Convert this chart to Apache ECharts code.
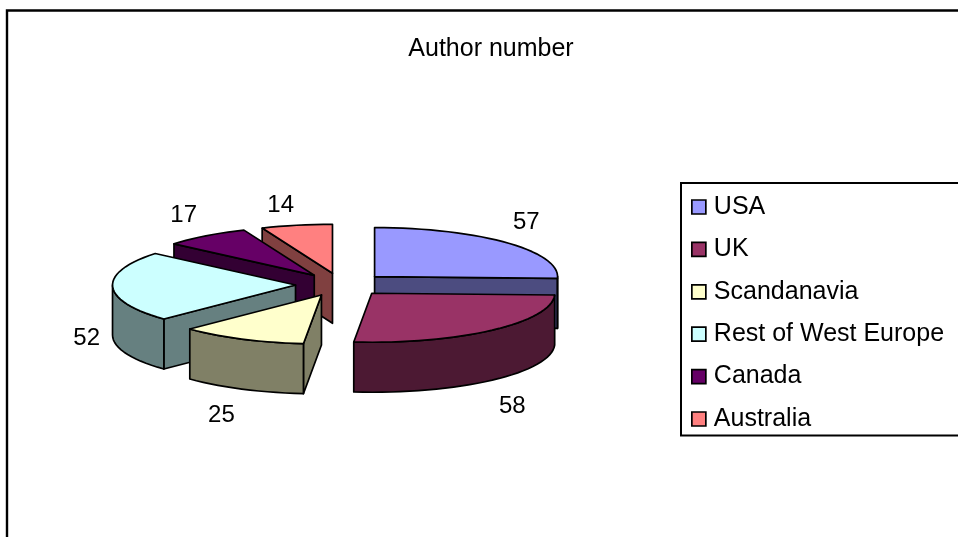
<!DOCTYPE html>
<html>
<head>
<meta charset="utf-8">
<style>html,body{margin:0;padding:0;background:#fff;overflow:hidden}#c{width:958px;height:537px}</style>
<script src="https://cdn.jsdelivr.net/npm/echarts@6/dist/echarts.min.js"></script>
</head>
<body>
<div id="c"></div>
<script>
var titleText = 'Author number';
var categories = ['USA', 'UK', 'Scandanavia', 'Rest of West Europe', 'Canada', 'Australia'];
var values = [57, 58, 25, 52, 17, 14];
var topColors = ['#9999FF', '#993366', '#FFFFCC', '#CCFFFF', '#660066', '#FF8080'];
var wallColors = ['#4C4C80', '#4C1933', '#808066', '#668080', '#330033', '#804040'];

var FONT = '"Liberation Sans", Arial, sans-serif';
var CX = 341.5, CY = 284.6, RX = 183, RY = 49, DEPTH = 50, EX = 46, EY = 11.5;
var total = values.reduce(function (a, b) { return a + b; }, 0);
var rad = Math.PI / 180;

var slices = [];
var acc = 0;
values.forEach(function (v) {
  var a0 = acc / total * 360;
  acc += v;
  var a1 = acc / total * 360;
  var mid = (a0 + a1) / 2;
  slices.push({
    a0: a0, a1: a1, mid: mid,
    ax: CX + EX * Math.sin(mid * rad),
    ay: CY - EY * Math.cos(mid * rad)
  });
});

function rim(s, a, d) {
  return [s.ax + RX * Math.sin(a * rad), s.ay - RY * Math.cos(a * rad) + (d || 0)];
}
function arc(s, from, to, d) {
  var pts = [], n = Math.max(2, Math.ceil((to - from) / 3));
  for (var i = 0; i <= n; i++) pts.push(rim(s, from + (to - from) * i / n, d));
  return pts;
}
function poly(points, fill) {
  return {
    type: 'polygon',
    shape: { points: points },
    style: { fill: fill, stroke: '#000', lineWidth: 1.7, lineJoin: 'round' }
  };
}

function makeRender(idx) {
  return function () {
    var s = slices[idx], kids = [], wall = wallColors[idx];
    var apex = [s.ax, s.ay], apexB = [s.ax, s.ay + DEPTH];
    if (Math.sin(s.a0 * rad) < 0) {
      kids.push(poly([apex, rim(s, s.a0), rim(s, s.a0, DEPTH), apexB], wall));
    }
    if (Math.sin(s.a1 * rad) > 0) {
      kids.push(poly([apex, rim(s, s.a1), rim(s, s.a1, DEPTH), apexB], wall));
    }
    var f = Math.max(s.a0, 90), t = Math.min(s.a1, 270);
    if (t > f) {
      kids.push(poly(arc(s, f, t, 0).concat(arc(s, f, t, DEPTH).reverse()), wall));
    }
    kids.push(poly([apex].concat(arc(s, s.a0, s.a1, 0)), topColors[idx]));

    var sn = Math.sin(s.mid * rad), cs = Math.cos(s.mid * rad);
    var p = rim(s, s.mid, cs < 0 ? DEPTH : 0);
    var dx = sn < 0 ? -26 * Math.pow(-sn, 0.3) : 20;
    var dy = Math.max(-20, Math.min(26, -cs * 60));
    kids.push({
      type: 'text',
      z2: 10,
      style: {
        x: p[0] + dx, y: p[1] + dy, text: String(values[idx]),
        fill: '#000', font: '24px ' + FONT, textAlign: 'center', textVerticalAlign: 'middle'
      }
    });
    return { type: 'group', children: kids };
  };
}

var series = categories.map(function (name, i) {
  return {
    type: 'custom',
    name: name,
    coordinateSystem: 'none',
    silent: true,
    animation: false,
    clip: false,
    z: 10 - Math.round(Math.cos(slices[i].mid * rad) * 4),
    itemStyle: { color: topColors[i] },
    data: [values[i]],
    renderItem: makeRender(i)
  };
});

var chart = echarts.init(document.getElementById('c'), null, { renderer: 'canvas' });
chart.setOption({
  backgroundColor: '#fff',
  animation: false,
  title: {
    text: titleText,
    left: 486, top: 32, textAlign: 'center',
    textStyle: { color: '#000', fontFamily: FONT, fontSize: 25, fontWeight: 'normal' }
  },
  graphic: [{
    type: 'rect', silent: true, z: -10,
    shape: { x: 7, y: 10.5, width: 1000, height: 600 },
    style: { fill: 'none', stroke: '#000', lineWidth: 2.4 }
  }],
  legend: {
    orient: 'vertical', left: 681, top: 183,
    data: categories,
    icon: 'rect', itemWidth: 14, itemHeight: 14, itemGap: 17.4,
    padding: [11.5, 40, 4, 10],
    backgroundColor: '#fff', borderColor: '#000', borderWidth: 2,
    selectedMode: false,
    itemStyle: { borderColor: '#000', borderWidth: 1.7 },
    textStyle: { color: '#000', fontFamily: FONT, fontSize: 25, padding: [0, 0, 0, 3] }
  },
  series: series
});
</script>
</body>
</html>
